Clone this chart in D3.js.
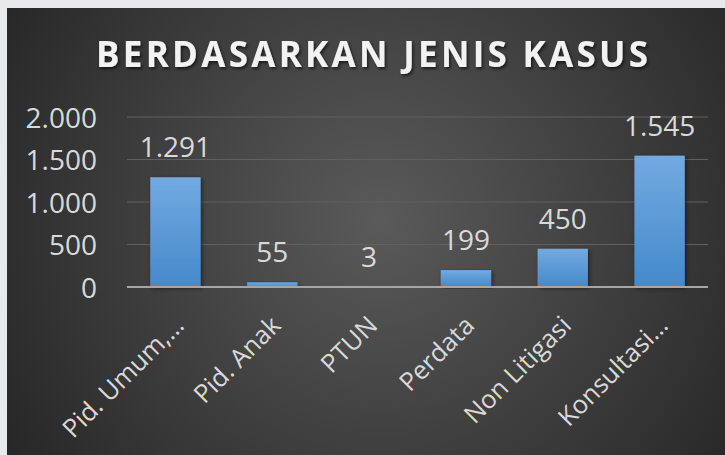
<!DOCTYPE html>
<html><head><meta charset="utf-8">
<script src="https://cdn.jsdelivr.net/npm/d3@7/dist/d3.min.js"></script>
<style>
html,body{margin:0;padding:0;background:#e7e9ed;}
svg{display:block;}
</style></head>
<body>
<script>
const title = "BERDASARKAN JENIS KASUS";
const categories = ["Pid. Umum,…", "Pid. Anak", "PTUN", "Perdata", "Non Litigasi", "Konsultasi…"];
const values = [1291, 55, 3, 199, 450, 1545];
const valueLabels = ["1.291", "55", "3", "199", "450", "1.545"];
const yTicks = [0, 500, 1000, 1500, 2000];
const yTickLabels = ["0", "500", "1.000", "1.500", "2.000"];

const W = 725, H = 455;
const svg = d3.select("body").append("svg").attr("width", W).attr("height", H);
const defs = svg.append("defs");

const rg = defs.append("radialGradient").attr("id","bg")
  .attr("gradientUnits","userSpaceOnUse").attr("cx",380).attr("cy",220).attr("r",470);
rg.append("stop").attr("offset","0").attr("stop-color","#5a5a5a");
rg.append("stop").attr("offset","1").attr("stop-color","#232323");

const bg = defs.append("linearGradient").attr("id","bar").attr("x1",0).attr("y1",0).attr("x2",0).attr("y2",1);
bg.append("stop").attr("offset","0").attr("stop-color","#72aae0");
bg.append("stop").attr("offset","1").attr("stop-color","#4589cb");

const sh = defs.append("filter").attr("id","tsh").attr("x","-10%").attr("y","-30%").attr("width","120%").attr("height","160%");
sh.append("feDropShadow").attr("dx",1.5).attr("dy",2).attr("stdDeviation",1.5).attr("flood-color","#000").attr("flood-opacity",0.6);
const bsh = defs.append("filter").attr("id","bsh").attr("x","-20%").attr("y","-10%").attr("width","140%").attr("height","120%");
bsh.append("feDropShadow").attr("dx",1.5).attr("dy",1.5).attr("stdDeviation",2).attr("flood-color","#000").attr("flood-opacity",0.5);

svg.append("rect").attr("x",7).attr("y",8).attr("width",W-7).attr("height",H-8).attr("fill","url(#bg)");

const font = "'Open Sans', sans-serif";
const txtColor = "#d9d9d9";

// title
const t = svg.append("text").attr("x",372).attr("y",67).attr("text-anchor","middle")
  .attr("font-family",font).attr("font-weight",700).attr("font-size",35)
  .attr("fill","#f2f2f2").attr("filter","url(#tsh)").text(title);
const tw = t.node().getComputedTextLength();
const targetW = 552;
const ls = (targetW - tw) / (title.length - 1);
t.attr("letter-spacing", ls + "px").attr("x", 372 + ls/2);

const x = d3.scaleBand().domain(categories).range([127, 708]).paddingInner(0.48).paddingOuter(0.24);
const y = d3.scaleLinear().domain([0, 2000]).range([287, 117]);

// gridlines
svg.append("g").selectAll("line").data(yTicks.filter(d=>d>0)).join("line")
  .attr("x1",127).attr("x2",708).attr("y1",d=>y(d)).attr("y2",d=>y(d))
  .attr("stroke","#606060").attr("stroke-width",1.2);

// y axis labels
const yAxis = d3.axisLeft(y).tickValues(yTicks).tickSize(0).tickPadding(0)
  .tickFormat((d,i)=>yTickLabels[i]);
const ya = svg.append("g").attr("transform","translate(97,0)").call(yAxis);
ya.select(".domain").remove();
ya.selectAll("text").attr("font-family",font).attr("font-size",28).attr("fill",txtColor).attr("dy","0.36em");

// bars
svg.append("g").selectAll("rect").data(values).join("rect")
  .attr("x",(d,i)=>x(categories[i])).attr("width",x.bandwidth())
  .attr("y",d=>y(d)).attr("height",d=>y(0)-y(d))
  .attr("fill","url(#bar)").attr("filter","url(#bsh)");

// baseline
svg.append("line").attr("x1",127).attr("x2",708).attr("y1",y(0)).attr("y2",y(0))
  .attr("stroke","#a6a6a6").attr("stroke-width",2);

// value labels
svg.append("g").selectAll("text").data(values).join("text")
  .attr("x",(d,i)=>x(categories[i])+x.bandwidth()/2).attr("y",d=>y(d)-20)
  .attr("text-anchor","middle").attr("font-family",font).attr("font-size",28).attr("fill",txtColor)
  .text((d,i)=>valueLabels[i]);

// x axis labels
const xAxis = d3.axisBottom(x).tickSize(0).tickPadding(0);
const xa = svg.append("g").attr("transform",`translate(0,${y(0)})`).call(xAxis);
xa.select(".domain").remove();
xa.selectAll("text").attr("font-family",font).attr("font-size",25.5).attr("fill",txtColor)
  .attr("text-anchor","end").attr("dy",null).attr("y",0)
  .attr("transform","translate(10,40) rotate(-45)");
</script>
</body></html>
